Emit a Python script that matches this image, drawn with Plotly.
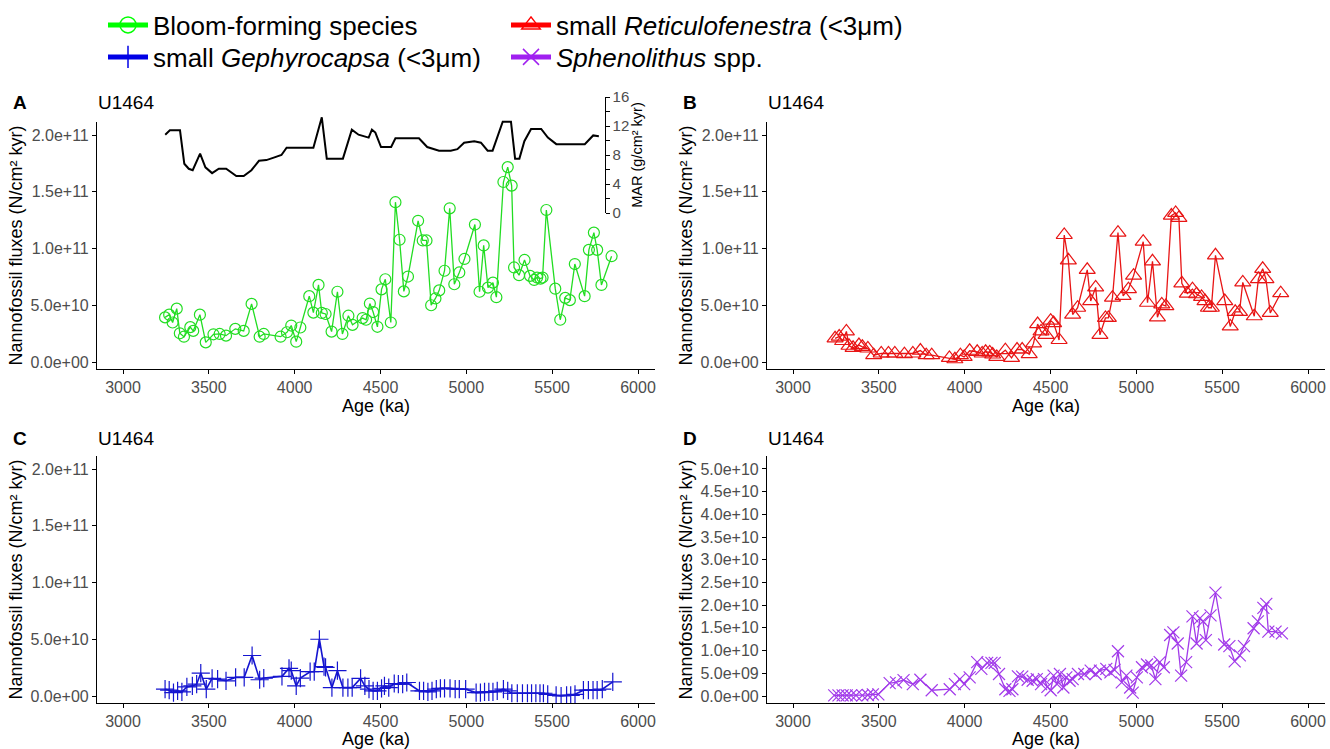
import plotly.graph_objects as go

# ---------------- data ----------------
x_ticks = [3000, 3500, 4000, 4500, 5000, 5500, 6000]
flux_ticks = [0, 5e10, 1e11, 1.5e11, 2e11]
spheno_ticks = [0, 5e9, 1e10, 1.5e10, 2e10, 2.5e10, 3e10, 3.5e10, 4e10, 4.5e10, 5e10]
mar_ticks = [0, 2, 4, 6, 8, 10, 12, 14, 16]
mar_labels = ["0", "", "4", "", "8", "", "12", "", "16"]

bloom_age = [3245, 3269, 3289, 3313, 3331, 3355, 3392, 3409, 3448, 3482,
             3527, 3563, 3600, 3654, 3703, 3749, 3796, 3820, 3918, 3955,
             3980, 4009, 4033, 4085, 4109, 4139, 4158, 4180, 4215, 4249,
             4278, 4313, 4337, 4396, 4416, 4438, 4457, 4482, 4506, 4528,
             4560, 4587, 4611, 4636, 4660, 4719, 4746, 4768, 4795, 4820,
             4842, 4873, 4903, 4930, 4959, 4989, 5050, 5077, 5101, 5126,
             5155, 5175, 5216, 5241, 5264, 5278, 5307, 5339, 5371, 5395,
             5412, 5432, 5444, 5466, 5518, 5547, 5576, 5603, 5632, 5689,
             5714, 5743, 5762, 5787, 5846]
bloom_e10 = [3.93, 4.17, 3.48, 4.70, 2.53, 2.23, 3.07, 2.74, 4.17, 1.73,
             2.44, 2.47, 2.32, 2.92, 2.74, 5.12, 2.23, 2.47, 2.23, 2.62,
             3.21, 1.79, 3.04, 5.80, 4.35, 6.79, 4.32, 4.23, 2.68, 6.19,
             2.47, 4.08, 3.27, 3.87, 3.72, 5.15, 4.40, 3.10, 6.40, 7.29,
             3.48, 14.08, 10.77, 6.22, 7.53, 12.44, 10.71, 10.71, 5.00, 5.60,
             6.31, 8.04, 13.54, 6.85, 7.89, 9.08, 12.11, 6.19, 10.27, 6.55,
             6.99, 5.71, 15.86, 17.17, 15.54, 8.33, 7.65, 8.99, 7.59, 7.23,
             7.44, 7.35, 7.44, 13.39, 6.46, 3.72, 5.65, 5.45, 8.63, 5.80,
             9.88, 11.40, 9.88, 6.79, 9.32]

reti_age = [3245, 3269, 3289, 3311, 3326, 3350, 3384, 3404, 3436, 3470,
            3514, 3556, 3593, 3649, 3698, 3742, 3776, 3808, 3911, 3943,
            3975, 3997, 4029, 4073, 4102, 4122, 4146, 4163, 4187, 4237,
            4273, 4305, 4335, 4376, 4401, 4425, 4445, 4474, 4501, 4518,
            4550, 4580, 4604, 4629, 4658, 4714, 4734, 4763, 4788, 4820,
            4837, 4861, 4893, 4923, 4954, 4984, 5040, 5065, 5094, 5123,
            5148, 5172, 5204, 5229, 5248, 5265, 5297, 5327, 5351, 5380,
            5400, 5420, 5437, 5461, 5515, 5547, 5576, 5601, 5620, 5687,
            5711, 5736, 5755, 5780, 5841]
reti_e10 = [2.09, 2.24, 1.85, 2.69, 1.43, 1.25, 1.49, 1.34, 1.19, 0.60,
            0.75, 0.75, 0.75, 0.69, 0.75, 1.01, 0.60, 0.60, 0.36, 0.24,
            0.60, 0.45, 0.99, 0.90, 0.75, 0.90, 0.84, 0.66, 0.45, 1.04,
            0.36, 1.10, 1.10, 0.69, 1.64, 3.34, 2.69, 2.39, 3.64, 3.43,
            1.94, 11.19, 8.96, 4.18, 4.78, 8.12, 5.37, 6.57, 2.39, 3.88,
            3.88, 5.67, 11.40, 5.82, 6.42, 7.61, 10.60, 5.22, 8.87, 3.94,
            5.07, 4.93, 12.90, 13.13, 12.69, 6.93, 6.03, 6.42, 5.97, 5.73,
            5.37, 4.78, 4.78, 9.40, 5.37, 3.13, 4.42, 4.42, 7.01, 4.03,
            7.31, 8.21, 7.31, 4.33, 6.06]

geph_age = [3245, 3269, 3294, 3318, 3343, 3372, 3404, 3429, 3453, 3485,
            3519, 3551, 3600, 3656, 3706, 3752, 3796, 3820, 3926, 3967,
            3980, 4009, 4033, 4090, 4114, 4144, 4171, 4180, 4217, 4249,
            4281, 4310, 4335, 4384, 4409, 4433, 4457, 4482, 4506, 4523,
            4548, 4580, 4604, 4629, 4653, 4727, 4751, 4776, 4800, 4825,
            4849, 4873, 4905, 4935, 4959, 4996, 5057, 5082, 5106, 5131,
            5155, 5180, 5216, 5241, 5265, 5297, 5327, 5356, 5380, 5405,
            5429, 5449, 5474, 5523, 5552, 5584, 5608, 5633, 5682, 5711,
            5738, 5762, 5792, 5853]
geph_e10 = [0.60, 0.51, 0.30, 0.45, 0.36, 0.80, 0.89, 1.04, 2.02, 0.60,
            1.55, 1.49, 1.34, 1.64, 1.64, 3.57, 1.43, 1.58, 1.73, 2.44,
            2.23, 0.89, 1.58, 2.14, 2.14, 5.00, 2.59, 2.53, 0.74, 2.23,
            0.74, 0.74, 0.74, 1.55, 0.89, 0.60, 0.45, 0.45, 0.68, 0.89,
            0.74, 1.10, 1.04, 1.04, 1.19, 0.45, 0.45, 0.36, 0.45, 0.60,
            0.68, 0.68, 0.68, 0.60, 0.60, 0.60, 0.30, 0.30, 0.36, 0.36,
            0.36, 0.45, 0.60, 0.45, 0.24, 0.24, 0.24, 0.24, 0.24, 0.24,
            0.24, 0.24, 0.15, 0.06, 0.00, 0.06, 0.06, 0.15, 0.51, 0.51,
            0.51, 0.51, 0.60, 1.25]

spheno_age = [3240, 3265, 3289, 3313, 3338, 3367, 3404, 3436, 3465, 3497,
              3563, 3600, 3644, 3698, 3742, 3808, 3913, 3943, 3972, 3997,
              4029, 4073, 4097, 4131, 4156, 4175, 4200, 4237, 4261, 4278,
              4310, 4335, 4367, 4396, 4420, 4445, 4462, 4482, 4501, 4518,
              4538, 4555, 4575, 4592, 4611, 4629, 4660, 4697, 4734, 4763,
              4788, 4825, 4849, 4873, 4893, 4915, 4942, 4964, 4979, 5003,
              5033, 5062, 5087, 5111, 5136, 5160, 5197, 5216, 5241, 5261,
              5290, 5327, 5351, 5371, 5388, 5405, 5432, 5461, 5512, 5542,
              5573, 5603, 5627, 5683, 5708, 5740, 5757, 5769, 5811, 5848]
spheno_e9 = [0.15, 0.15, 0.15, 0.15, 0.15, 0.15, 0.15, 0.22, 0.37, 0.37,
             2.84, 2.99, 3.51, 2.61, 3.58, 1.27, 1.49, 2.61, 3.73, 2.61,
             4.10, 7.46, 5.97, 7.31, 7.31, 7.31, 4.85, 1.49, 1.12, 1.49,
             4.33, 4.25, 3.58, 3.36, 3.73, 2.61, 3.73, 2.01, 1.27, 4.48,
             2.61, 4.85, 1.87, 4.10, 3.36, 3.73, 4.85, 4.85, 5.60, 4.85,
             5.60, 5.97, 5.22, 5.75, 9.85, 2.99, 4.48, 1.87, 0.75, 4.10,
             6.34, 6.94, 6.72, 3.73, 7.46, 6.34, 13.43, 14.03, 11.57, 4.48,
             7.46, 17.54, 11.57, 17.16, 16.42, 12.31, 17.76, 22.76, 11.34, 10.97,
             7.61, 8.96, 10.97, 14.93, 16.42, 19.40, 20.30, 14.18, 14.18, 13.81]

mar_age = [3246, 3273, 3332, 3357, 3383, 3406, 3449, 3480, 3519, 3558,
           3601, 3660, 3703, 3748, 3792, 3835, 3874, 3923, 3953, 4011,
           4109, 4158, 4187, 4281, 4333, 4372, 4431, 4450, 4470, 4503,
           4562, 4587, 4724, 4772, 4802, 4841, 4909, 4948, 4987, 5046,
           5085, 5124, 5153, 5212, 5260, 5284, 5309, 5338, 5377, 5436,
           5475, 5524, 5592, 5690, 5739, 5772]
mar_val = [10.8, 11.4, 11.4, 6.8, 6.1, 5.9, 8.2, 6.3, 5.5, 6.1,
           6.1, 5.1, 5.1, 5.9, 7.2, 7.3, 7.6, 8.0, 9.0, 9.0,
           9.0, 13.2, 7.5, 7.5, 11.5, 10.8, 10.4, 11.5, 11.1, 9.1,
           9.1, 10.3, 10.3, 9.1, 8.9, 8.6, 8.6, 8.8, 9.7, 9.9,
           9.7, 8.6, 8.6, 12.6, 12.6, 7.5, 7.5, 9.9, 11.6, 11.6,
           10.4, 9.5, 9.5, 9.5, 10.7, 10.6]

site = "U1464"
panel_tags = ["A", "B", "C", "D"]
names = ["Bloom-forming species", "small <i>Reticulofenestra</i> (&lt;3μm)",
         "small <i>Gephyrocapsa</i> (&lt;3μm)", "<i>Sphenolithus</i> spp."]

# ---------------- styling ----------------
W, H = 1330, 749
FONT = "Liberation Sans, Arial, sans-serif"
GREEN, RED, BLUE, PURPLE = "#22dd22", "#e81515", "#1515d0", "#a23bea"
LEG_COLORS = ["#00ff00", "#ff0000", "#0000e6", "#a020f0"]


def px_x(p):
    return p / W


def px_y(p):
    return 1 - p / H


XR = [2848.5, 6099]
FLUX_R = [-6.17e9, 2.1145e11]
SPH_R = [-1.542e9, 5.286e10]

fig = go.Figure()

# data traces
fig.add_trace(go.Scatter(x=mar_age, y=mar_val, xaxis="x", yaxis="y5", mode="lines",
                         line=dict(color="black", width=2), showlegend=False))
fig.add_trace(go.Scatter(x=bloom_age, y=[v * 1e10 for v in bloom_e10], xaxis="x", yaxis="y",
                         mode="lines+markers", line=dict(color=GREEN, width=1.3),
                         marker=dict(symbol="circle-open", size=11, color=GREEN, line=dict(width=1.2)),
                         showlegend=False))
fig.add_trace(go.Scatter(x=reti_age, y=[v * 1e10 for v in reti_e10], xaxis="x2", yaxis="y2",
                         mode="lines+markers", line=dict(color=RED, width=1.3),
                         marker=dict(symbol="triangle-up-open", size=14, color=RED, line=dict(width=1.2)),
                         showlegend=False))
fig.add_trace(go.Scatter(x=geph_age, y=[v * 1e10 for v in geph_e10], xaxis="x3", yaxis="y3",
                         mode="lines+markers", line=dict(color=BLUE, width=1.6),
                         marker=dict(symbol="cross-thin", size=13, color=BLUE, line=dict(color=BLUE, width=1.2)),
                         showlegend=False))
fig.add_trace(go.Scatter(x=spheno_age, y=[v * 1e9 for v in spheno_e9], xaxis="x4", yaxis="y4",
                         mode="lines+markers", line=dict(color=PURPLE, width=1.3),
                         marker=dict(symbol="x-thin", size=12, color=PURPLE, line=dict(color=PURPLE, width=1.2)),
                         showlegend=False))

# legend-only traces
leg_symbols = ["circle-open", "triangle-up-open", "cross-thin", "x-thin"]
leg_groups = ["legend", "legend", "legend2", "legend2"]
for nm, col, sym, lg in zip(names, LEG_COLORS, leg_symbols, leg_groups):
    fig.add_trace(go.Scatter(x=[None], y=[None], mode="lines+markers", name=nm, legend=lg,
                             line=dict(color=col, width=5),
                             marker=dict(symbol=sym, size=16, color=col, line=dict(color=col, width=1.5))))

axis_common = dict(showline=True, linecolor="black", linewidth=1.1, ticks="outside", ticklen=4,
                   tickcolor="black", tickwidth=1, showgrid=False, zeroline=False, automargin=False,
                   tickfont=dict(family=FONT, size=16, color="#4d4d4d"))

xdom_left = [px_x(97), px_x(655)]
xdom_right = [px_x(767), px_x(1325)]
ydom_top = [px_y(369), px_y(122)]
ydom_bot = [px_y(703), px_y(456)]

xt = dict(text="Age (ka)", font=dict(family=FONT, size=18, color="black"), standoff=0)
yt = dict(text="Nannofossil fluxes (N/cm² kyr)", font=dict(family=FONT, size=18, color="black"), standoff=3)

flux_text = [f"{v:.1e}" for v in flux_ticks]
sph_text = [f"{v:.1e}" for v in spheno_ticks]

leg_common = dict(orientation="h", xref="container", yref="container", xanchor="left", yanchor="middle",
                  font=dict(family=FONT, size=26, color="black"), entrywidth=348, itemwidth=40,
                  bgcolor="rgba(0,0,0,0)", tracegroupgap=0)

layout = dict(
    width=W, height=H, margin=dict(l=0, r=0, t=0, b=0, autoexpand=False),
    paper_bgcolor="white", plot_bgcolor="rgba(0,0,0,0)",
    font=dict(family=FONT, color="black"),
    xaxis=dict(domain=xdom_left, anchor="y", range=XR, tickvals=x_ticks, title=xt, **axis_common),
    yaxis=dict(domain=ydom_top, anchor="x", range=FLUX_R, tickvals=flux_ticks, ticktext=flux_text,
               title=yt, **axis_common),
    xaxis2=dict(domain=xdom_right, anchor="y2", range=XR, tickvals=x_ticks, title=xt, **axis_common),
    yaxis2=dict(domain=ydom_top, anchor="x2", range=FLUX_R, tickvals=flux_ticks, ticktext=flux_text,
                title=yt, **axis_common),
    xaxis3=dict(domain=xdom_left, anchor="y3", range=XR, tickvals=x_ticks, title=xt, **axis_common),
    yaxis3=dict(domain=ydom_bot, anchor="x3", range=FLUX_R, tickvals=flux_ticks, ticktext=flux_text,
                title=yt, **axis_common),
    xaxis4=dict(domain=xdom_right, anchor="y4", range=XR, tickvals=x_ticks, title=xt, **axis_common),
    yaxis4=dict(domain=ydom_bot, anchor="x4", range=SPH_R, tickvals=spheno_ticks, ticktext=sph_text,
                title=yt, **axis_common),
    yaxis5=dict(domain=[px_y(213), px_y(97)], anchor="free", position=px_x(604.5), side="right",
                range=[0, 16], tickvals=mar_ticks, ticktext=mar_labels,
                showline=True, linecolor="black", linewidth=1.1, ticks="outside", ticklen=4,
                tickcolor="black", tickwidth=1, showgrid=False, zeroline=False, automargin=False,
                tickfont=dict(family=FONT, size=15, color="#4d4d4d"),
                title=dict(text="MAR (g/cm² kyr)", font=dict(family=FONT, size=14.5, color="black"), standoff=3)),
    legend=dict(x=px_x(103), y=px_y(25), **leg_common),
    legend2=dict(x=px_x(103), y=px_y(57), **leg_common),
)
fig.update_layout(**layout)

# panel tags and titles
tag_pos = [(11, 103), (681, 103), (11, 438), (681, 438)]
title_pos = [(96, 103), (766, 103), (96, 438), (766, 438)]
for tag, (tx, ty), (sx, sy) in zip(panel_tags, tag_pos, title_pos):
    fig.add_annotation(text=f"<b>{tag}</b>", x=px_x(tx), y=px_y(ty), xref="paper", yref="paper",
                       xanchor="left", yanchor="middle", showarrow=False,
                       font=dict(family=FONT, size=19, color="black"))
    fig.add_annotation(text=site, x=px_x(sx), y=px_y(sy), xref="paper", yref="paper",
                       xanchor="left", yanchor="middle", showarrow=False,
                       font=dict(family=FONT, size=19, color="black"))

# remove the default 8px page margin so the figure sits at the window origin
fig.write_html("out.html", config={"displayModeBar": False},
               post_script="document.body.style.margin='0px';")
